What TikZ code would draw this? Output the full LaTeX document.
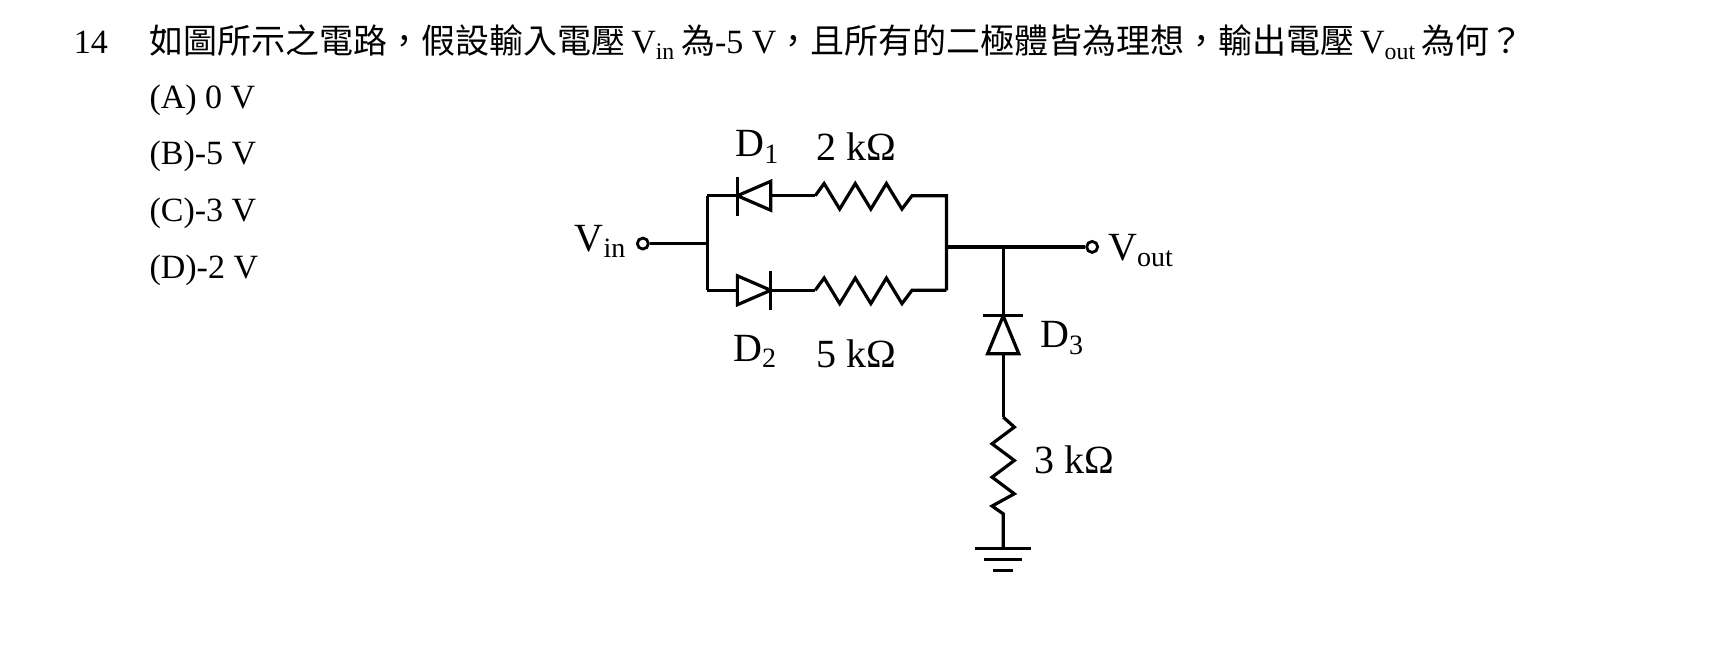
\documentclass[tikz,border=0pt]{standalone}
\usepackage{fontspec}
\setmainfont{Liberation Serif}
\newfontfamily\cjk{Noto Sans CJK TC}
\begin{document}
\begin{tikzpicture}[x=0.556pt,y=-0.556pt,line width=1.6pt,
  lbl/.style={inner sep=0pt,font=\fontsize{20}{22}\selectfont},
  txt/.style={inner sep=0pt,anchor=west,font=\fontsize{17}{20}\selectfont},
  term/.style={circle,draw,inner sep=0pt,minimum size=5.5pt,line width=1.4pt}]
\useasboundingbox[fill=white] (0,0) rectangle (1560,581);
% text
\node[txt] (num) at (65,38) {14};
\node[txt] (q) at (133,38) {{\cjk 如圖所示之電路，假設輸入電壓}\,V\textsubscript{in}\,{\cjk 為}-5 V{\cjk ，且所有的二極體皆為理想，輸出電壓}\,V\textsubscript{out}\,{\cjk 為何？}};
\node[txt] (oa) at (133,90) {(A) 0 V};
\node[txt] (ob) at (133,141) {(B)-5 V};
\node[txt] (oc) at (133,192) {(C)-3 V};
\node[txt] (od) at (133,243) {(D)-2 V};
% coordinates
\node[term] (vin) at (578,219) {};
\node[term] (vout) at (982,222) {};
\coordinate (lm) at (636,219);
\coordinate (lt) at (636,176);
\coordinate (lb) at (636,261);
\coordinate (rt) at (851,176);
\coordinate (rb) at (851,261);
\coordinate (rm) at (851,222);
\coordinate (j) at (902,222);
% wires
\draw (vin) -- (lm);
\draw (lt) -- (lb);
\draw (lt) -- (663,176);
\draw (693,176) -- (733,176);
\draw (733,176) -- (741,165) -- (755,188) -- (769,165) -- (783,188) -- (797,165) -- (811,188) -- (820,176) -- (rt) -- (rb);
\draw (lb) -- (663,261);
\draw (693,261) -- (733,261);
\draw (733,261) -- (741,250) -- (755,273) -- (769,250) -- (783,273) -- (797,250) -- (811,273) -- (820,261) -- (rb);
\draw (rm) -- (vout);
% D1 (points left)
\draw (663,159) -- (663,194);
\draw (663,176) -- (693,163) -- (693,189) -- cycle;
% D2 (points right)
\draw (693,244) -- (693,279);
\draw (663,248) -- (693,261) -- (663,274) -- cycle;
% D3 (points up)
\draw (j) -- (902,284);
\draw (884,284) -- (920,284);
\draw (902,284) -- (888,318) -- (916,318) -- cycle;
\draw (902,318) -- (902,375);
\draw (902,375) -- (912,384) -- (892,399) -- (912,414) -- (892,429) -- (912,444) -- (892,455) -- (902,462) -- (902,493);
% ground
\draw (877,493) -- (927,493);
\draw (885,503) -- (919,503);
\draw (893,513) -- (911,513);
% labels
\node[lbl] (lvin) at (540,217) {V\textsubscript{in}};
\node[lbl] (lvout) at (1026,225) {V\textsubscript{out}};
\node[lbl] (ld1) at (681,132) {D\textsubscript{1}};
\node[lbl] (lr1) at (770,132) {2 kΩ};
\node[lbl] (ld2) at (679,316) {D\textsubscript{2}};
\node[lbl] (lr2) at (770,318) {5 kΩ};
\node[lbl] (ld3) at (955,304) {D\textsubscript{3}};
\node[lbl] (lr3) at (966,413) {3 kΩ};
\end{tikzpicture}
\end{document}
